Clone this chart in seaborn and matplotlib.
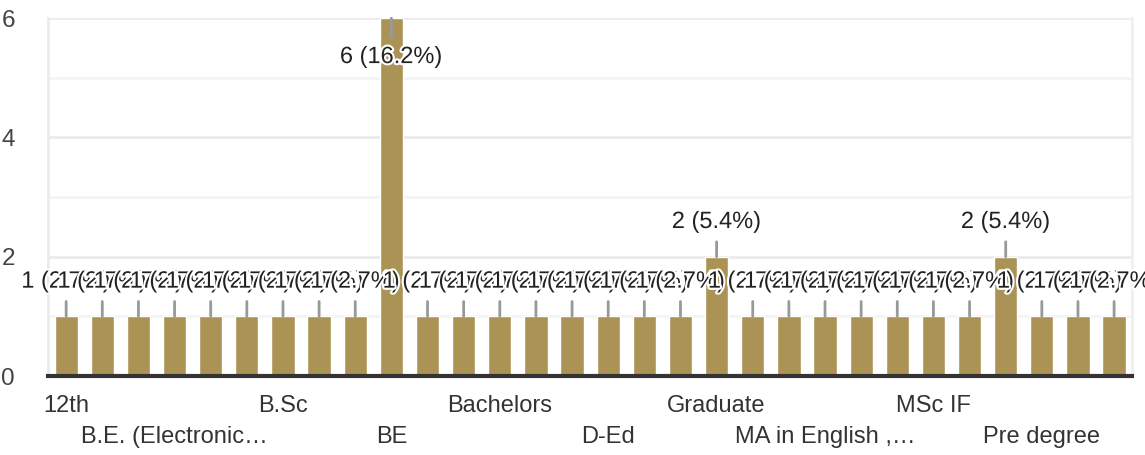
import matplotlib
matplotlib.use("Agg")
import matplotlib.pyplot as plt
import matplotlib.patheffects as pe
import seaborn as sns
import pandas as pd

# answers (alphabetical, as the form sorts them) and their counts
categories = [
    "12th", "12th pass", "B.Com", "B.E. (Electronics)", "B.Ed", "B.Pharm",
    "B.Sc", "B.Tech", "BA", "BE", "BCA", "BSc",
    "Bachelors", "Btech", "Commerce", "D-Ed", "Diploma", "Engineering",
    "Graduate", "HSC", "M.Sc", "MA in English , Marathi", "MBA", "MCA",
    "MSc IF", "Masters", "PG", "Pre degree", "SSC", "Undergraduate",
]
counts = [1, 1, 1, 1, 1, 1, 1, 1, 1, 6, 1, 1, 1, 1, 1,
          1, 1, 1, 2, 1, 1, 1, 1, 1, 1, 1, 2, 1, 1, 1]
shown_labels = {0: "12th", 3: "B.E. (Electronic\u2026", 6: "B.Sc", 9: "BE",
                12: "Bachelors", 15: "D-Ed", 18: "Graduate",
                21: "MA in English ,\u2026", 24: "MSc IF", 27: "Pre degree"}
y_ticks = [0, 2, 4, 6]

df = pd.DataFrame({"answer": categories, "count": counts})
total = sum(counts)

sns.set_style("white")
plt.rcParams["font.family"] = ["Liberation Sans", "DejaVu Sans"]

fig = plt.figure(figsize=(11.45, 4.55), dpi=100)
ax = fig.add_axes([0.042, 0.1736, 0.9468, 0.7864])

# grid first so bars sit on top
for v in range(0, 7):
    ax.axhline(v, color="#ebebeb" if v % 2 == 0 else "#f4f4f4", lw=2, zorder=0)

sns.barplot(data=df, x="answer", y="count", color="#ab9355", saturation=1,
            width=0.645, ax=ax, zorder=2)

ax.set_xlim(-0.5, len(categories) - 0.5)
ax.set_ylim(0, 6)
ax.set_yticks(y_ticks)
ax.set_yticklabels([str(t) for t in y_ticks])

ticks = sorted(shown_labels)
ax.set_xticks(ticks)
ax.set_xticklabels([shown_labels[i] if (k % 2 == 0) else "\n" + shown_labels[i]
                    for k, i in enumerate(ticks)], linespacing=1.5)
ax.tick_params(axis="both", length=0, labelsize=17, colors="#333333")
ax.tick_params(axis="y", colors="#444444", labelsize=17.5)
ax.tick_params(axis="x", pad=14)
ax.tick_params(axis="y", pad=24)
ax.set_xlabel("")
ax.set_ylabel("")

ax.spines["top"].set_visible(False)
ax.spines["left"].set_color("#ebebeb")
ax.spines["left"].set_linewidth(2)
ax.spines["right"].set_color("#f0f0f0")
ax.spines["right"].set_linewidth(2)
ax.spines["bottom"].set_color("#333333")
ax.spines["bottom"].set_linewidth(3)
ax.spines["bottom"].set_zorder(5)

# value labels with leader lines
ymax = max(counts)
for i, c in enumerate(counts):
    txt = f"{c} ({c / total * 100:.1f}%)"
    off = -28 if c == ymax else 25
    ax.annotate(txt, xy=(i, c), xytext=(0, off), textcoords="offset points",
                ha="center", va="center", fontsize=17, color="#222222",
                path_effects=[pe.withStroke(linewidth=3, foreground="white")],
                arrowprops=dict(arrowstyle="-", color="#999999", lw=2,
                                shrinkA=4, shrinkB=0),
                zorder=6, annotation_clip=False)

fig.savefig("out.png", dpi=100)
